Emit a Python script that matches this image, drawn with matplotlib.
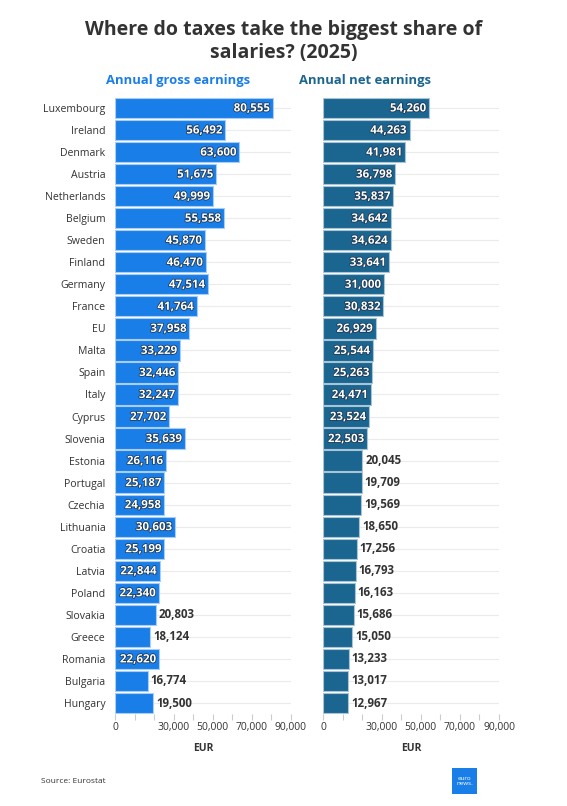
import matplotlib.pyplot as plt
import matplotlib.patheffects as pe
from matplotlib.patches import Rectangle

plt.rcParams['font.family'] = ['Open Sans', 'DejaVu Sans']

countries = ["Luxembourg", "Ireland", "Denmark", "Austria", "Netherlands", "Belgium",
             "Sweden", "Finland", "Germany", "France", "EU", "Malta", "Spain", "Italy",
             "Cyprus", "Slovenia", "Estonia", "Portugal", "Czechia", "Lithuania",
             "Croatia", "Latvia", "Poland", "Slovakia", "Greece", "Romania",
             "Bulgaria", "Hungary"]
gross = [80555, 56492, 63600, 51675, 49999, 55558, 45870, 46470, 47514, 41764,
         37958, 33229, 32446, 32247, 27702, 35639, 26116, 25187, 24958, 30603,
         25199, 22844, 22340, 20803, 18124, 22620, 16774, 19500]
net = [54260, 44263, 41981, 36798, 35837, 34642, 34624, 33641, 31000, 30832,
       26929, 25544, 25263, 24471, 23524, 22503, 20045, 19709, 19569, 18650,
       17256, 16793, 16163, 15686, 15050, 13233, 13017, 12967]
ticks = [0, 10000, 20000, 30000, 40000, 50000, 60000, 70000, 80000, 90000]
tick_labels = ["0", "", "", "30,000", "", "50,000", "", "70,000", "", "90,000"]

fig = plt.figure(figsize=(5.67, 8.06), dpi=100)
fig.patch.set_facecolor("white")

dark = "#333333"
# (axes left, values, bar colour, edge colour, subtitle, subtitle x)
panels = [
    (0.2028, gross, "#1a7ee8", "#a9cdf5", "Annual gross earnings", 106 / 567),
    (0.5697, net, "#1b6690", "#a9c4d6", "Annual net earnings", 299 / 567),
]

ypos = list(range(len(countries)))
for i, (left, values, color, edge, subtitle, sub_x) in enumerate(panels):
    ax = fig.add_axes([left, 0.1141, 0.3104, 0.7656])
    for y in ypos:
        ax.axhline(y, color="#ebebeb", lw=0.8, zorder=0)
    ax.barh(ypos, values, height=0.92, color=color, edgecolor=edge, linewidth=0.8, zorder=2)
    for y, v in zip(ypos, values):
        txt = f"{v:,}"
        if v > 21000:
            t = ax.text(v - 1500, y, txt, ha="right", va="center", color="white",
                        fontsize=8.3, fontweight="bold", zorder=3)
            t.set_path_effects([pe.withStroke(linewidth=1.1, foreground="#1c3550")])
        else:
            ax.text(v + 1500, y, txt, ha="left", va="center", color=dark,
                    fontsize=8.3, fontweight="bold", zorder=3)
    ax.set_xlim(0, 90000)
    ax.set_ylim(len(countries) - 0.5, -0.5)
    ax.set_xticks(ticks)
    ax.set_xticklabels(tick_labels)
    ax.tick_params(axis="x", length=4, color="#cccccc", labelsize=7.5, labelcolor=dark, pad=2)
    ax.set_xlabel("EUR", fontsize=7.5, fontweight="bold", color=dark, labelpad=7)
    for s in ax.spines.values():
        s.set_visible(False)
    if i == 0:
        ax.set_yticks(ypos)
        ax.set_yticklabels(countries)
        ax.tick_params(axis="y", length=0, labelsize=7.6, labelcolor=dark, pad=7)
    else:
        ax.set_yticks([])
    fig.text(sub_x, 0.900, subtitle, ha="left", va="center", fontsize=9.4,
             fontweight="bold", color=color)

fig.text(0.5, 0.948, "Where do taxes take the biggest share of\nsalaries? (2025)",
         ha="center", va="center", fontsize=14, fontweight="bold", color=dark,
         linespacing=1.2)

fig.text(41 / 567, 0.031, "Source: Eurostat", ha="left", va="center", fontsize=6, color=dark)

logo = Rectangle((452 / 567, 1 - 794 / 806), 25 / 567, 26 / 806,
                 transform=fig.transFigure, facecolor="#1a7ee8", edgecolor="none")
fig.patches.append(logo)
fig.text(464.5 / 567, 1 - 781 / 806, "euro\nnews.", ha="center", va="center",
         fontsize=4.5, color="white", linespacing=0.9)

fig.savefig("out.png", dpi=100)
